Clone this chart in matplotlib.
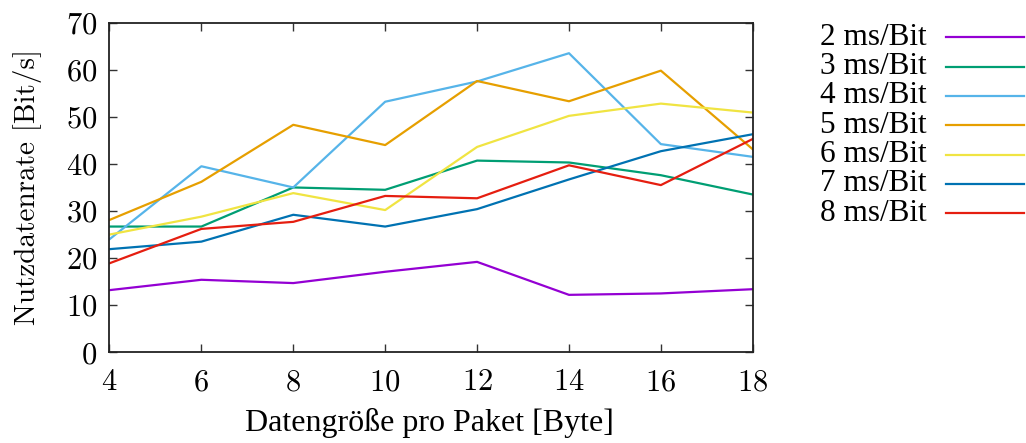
"""Nutzdatenrate over payload size for several bit durations."""

import matplotlib
matplotlib.use("Agg")
import matplotlib.pyplot as plt
from matplotlib.lines import Line2D

plt.rcParams["font.family"] = ["Liberation Serif", "DejaVu Serif"]
plt.rcParams["axes.formatter.use_mathtext"] = True

# payload size per packet [Byte]
sizes = [4, 6, 8, 10, 12, 14, 16, 18]

labels = ["2 ms/Bit", "3 ms/Bit", "4 ms/Bit", "5 ms/Bit", "6 ms/Bit", "7 ms/Bit", "8 ms/Bit"]
colors = ["#9400D3", "#009E73", "#56B4E9", "#E69F00", "#F0E442", "#0072B2", "#E51E10"]

# useful data rate [Bit/s]
rate_2ms = [13.2, 15.4, 14.7, 17.1, 19.2, 12.2, 12.5, 13.4]
rate_3ms = [26.7, 26.7, 35.0, 34.5, 40.7, 40.3, 37.6, 33.5]
rate_4ms = [24.0, 39.5, 35.0, 53.2, 57.5, 63.5, 44.2, 41.5]
rate_5ms = [28.1, 36.2, 48.3, 44.0, 57.6, 53.3, 59.8, 43.1]
rate_6ms = [25.0, 28.8, 33.8, 30.2, 43.6, 50.2, 52.8, 50.9]
rate_7ms = [21.9, 23.5, 29.2, 26.7, 30.4, 36.7, 42.7, 46.3]
rate_8ms = [18.9, 26.2, 27.7, 33.2, 32.7, 39.7, 35.5, 45.3]

series = [rate_2ms, rate_3ms, rate_4ms, rate_5ms, rate_6ms, rate_7ms, rate_8ms]

CM = "cmr10"
TIMES = ["Liberation Serif", "DejaVu Serif"]

fig = plt.figure(figsize=(10.26, 4.43), dpi=100)
ax = fig.add_axes([0.1067, 0.2047, 0.627, 0.7443])

for values, color in zip(series, colors):
    ax.plot(sizes, values, color=color, lw=1.6)

ax.set_xlim(4, 18)
ax.set_ylim(0, 70)
ax.set_xticks(range(4, 19, 2))
ax.set_yticks(range(0, 71, 10))
ax.tick_params(direction="in", length=6, width=1, top=True, right=True,
               colors="#333333", labelcolor="black")
ax.tick_params(axis="x", pad=12)
ax.tick_params(axis="y", pad=9)
for lab in ax.get_xticklabels() + ax.get_yticklabels():
    lab.set_family(CM)
    lab.set_fontsize(22)
for spine in ax.spines.values():
    spine.set_linewidth(1.3)
    spine.set_color("#222222")

ax.set_xlabel("Datengröße pro Paket [Byte]", family=TIMES, fontsize=23, va="center")
ax.xaxis.set_label_coords(0.498, -0.213)
ax.set_ylabel("Nutzdatenrate [Bit/s]", family=CM, fontsize=21, va="center")
ax.yaxis.set_label_coords(-0.128, 0.5)

# key on the right, label text then line sample
W, H = 1026, 443
for i, (label, color) in enumerate(zip(labels, colors)):
    y = 1 - (37.3 + i * 29.3) / H
    fig.text(927 / W, y, label, ha="right", va="center", family=TIMES, fontsize=22.5)
    fig.add_artist(Line2D([946 / W, 1024 / W], [y, y], transform=fig.transFigure,
                          color=color, lw=1.6))

fig.savefig("out.png", dpi=100)
